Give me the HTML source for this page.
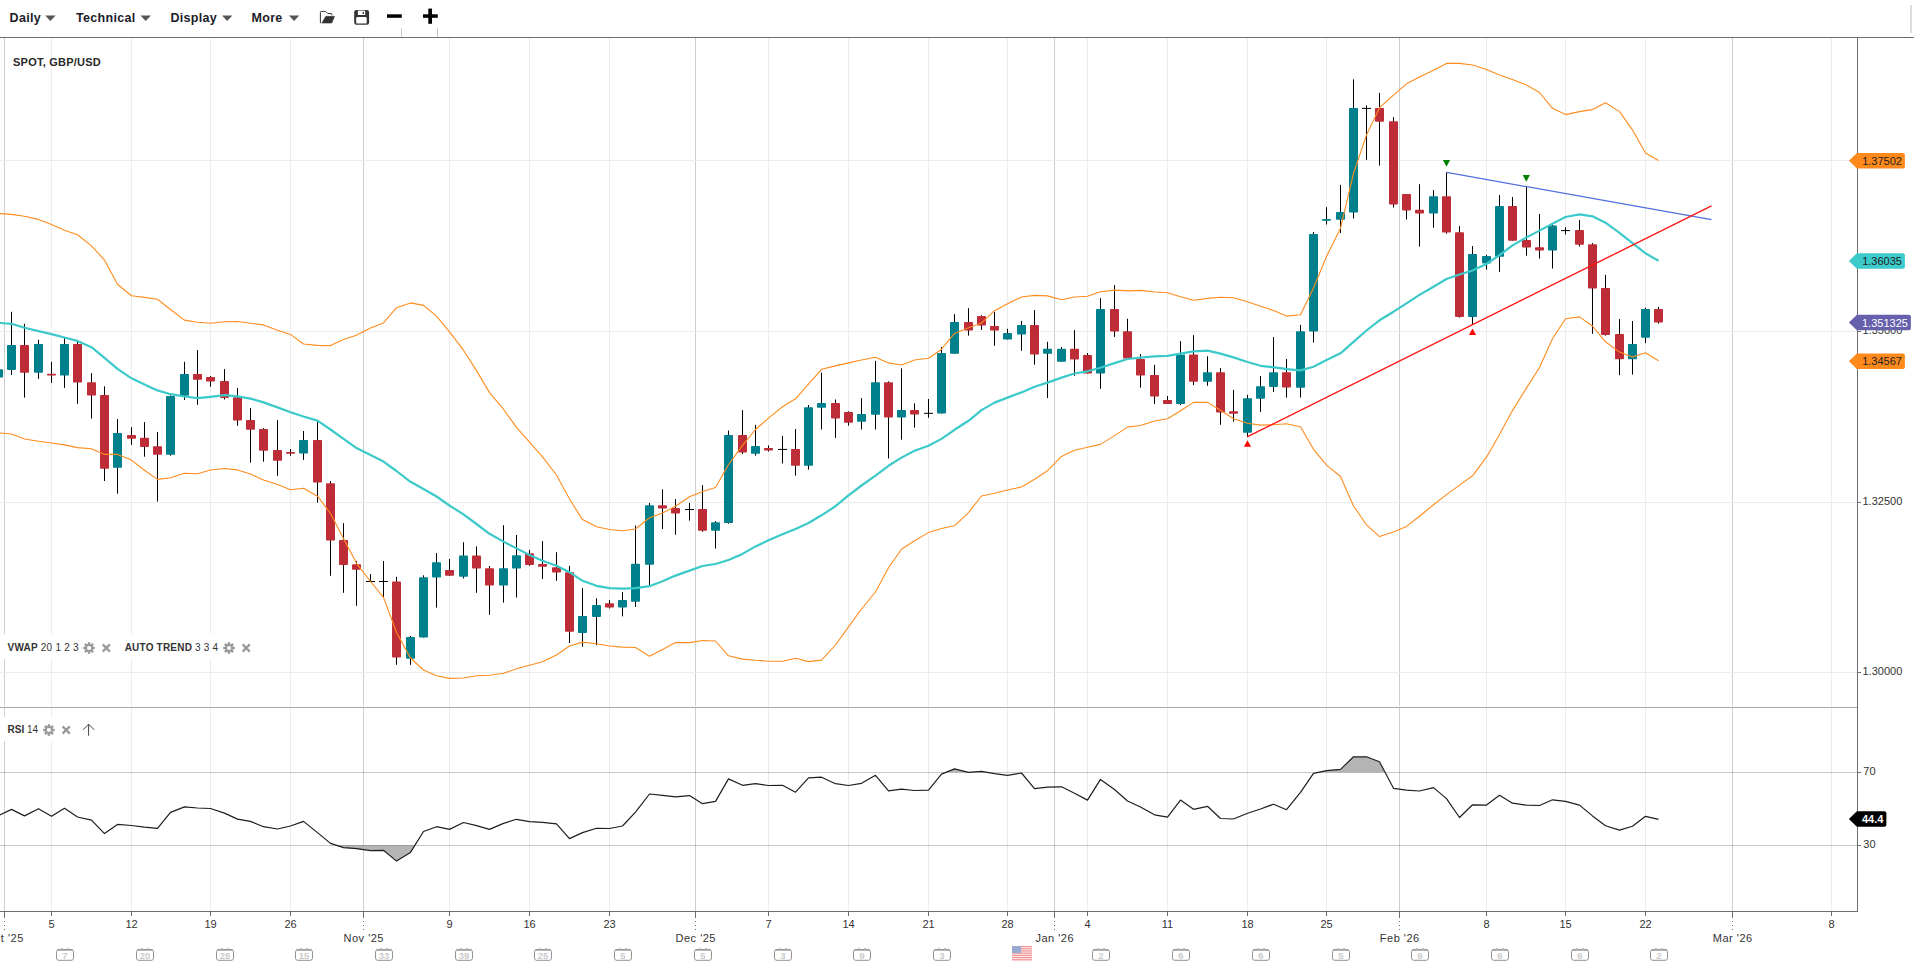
<!DOCTYPE html><html><head><meta charset="utf-8"><title>GBP/USD Chart</title><style>html,body{margin:0;padding:0;background:#fff;width:1914px;height:969px;overflow:hidden}text{font-family:"Liberation Sans",sans-serif}</style></head><body><svg width="1914" height="969" viewBox="0 0 1914 969" style="display:block;font-family:'Liberation Sans', sans-serif">
<rect width="1914" height="969" fill="#fff"/>
<g shape-rendering="crispEdges"><line x1="51.5" y1="38" x2="51.5" y2="706" stroke="#ececec"/><line x1="51.5" y1="708" x2="51.5" y2="911" stroke="#ececec"/><line x1="131.5" y1="38" x2="131.5" y2="706" stroke="#ececec"/><line x1="131.5" y1="708" x2="131.5" y2="911" stroke="#ececec"/><line x1="210.5" y1="38" x2="210.5" y2="706" stroke="#ececec"/><line x1="210.5" y1="708" x2="210.5" y2="911" stroke="#ececec"/><line x1="290.5" y1="38" x2="290.5" y2="706" stroke="#ececec"/><line x1="290.5" y1="708" x2="290.5" y2="911" stroke="#ececec"/><line x1="449.5" y1="38" x2="449.5" y2="706" stroke="#ececec"/><line x1="449.5" y1="708" x2="449.5" y2="911" stroke="#ececec"/><line x1="529.5" y1="38" x2="529.5" y2="706" stroke="#ececec"/><line x1="529.5" y1="708" x2="529.5" y2="911" stroke="#ececec"/><line x1="609.5" y1="38" x2="609.5" y2="706" stroke="#ececec"/><line x1="609.5" y1="708" x2="609.5" y2="911" stroke="#ececec"/><line x1="768.5" y1="38" x2="768.5" y2="706" stroke="#ececec"/><line x1="768.5" y1="708" x2="768.5" y2="911" stroke="#ececec"/><line x1="848.5" y1="38" x2="848.5" y2="706" stroke="#ececec"/><line x1="848.5" y1="708" x2="848.5" y2="911" stroke="#ececec"/><line x1="928.5" y1="38" x2="928.5" y2="706" stroke="#ececec"/><line x1="928.5" y1="708" x2="928.5" y2="911" stroke="#ececec"/><line x1="1007.5" y1="38" x2="1007.5" y2="706" stroke="#ececec"/><line x1="1007.5" y1="708" x2="1007.5" y2="911" stroke="#ececec"/><line x1="1087.5" y1="38" x2="1087.5" y2="706" stroke="#ececec"/><line x1="1087.5" y1="708" x2="1087.5" y2="911" stroke="#ececec"/><line x1="1167.5" y1="38" x2="1167.5" y2="706" stroke="#ececec"/><line x1="1167.5" y1="708" x2="1167.5" y2="911" stroke="#ececec"/><line x1="1247.5" y1="38" x2="1247.5" y2="706" stroke="#ececec"/><line x1="1247.5" y1="708" x2="1247.5" y2="911" stroke="#ececec"/><line x1="1326.5" y1="38" x2="1326.5" y2="706" stroke="#ececec"/><line x1="1326.5" y1="708" x2="1326.5" y2="911" stroke="#ececec"/><line x1="1486.5" y1="38" x2="1486.5" y2="706" stroke="#ececec"/><line x1="1486.5" y1="708" x2="1486.5" y2="911" stroke="#ececec"/><line x1="1565.5" y1="38" x2="1565.5" y2="706" stroke="#ececec"/><line x1="1565.5" y1="708" x2="1565.5" y2="911" stroke="#ececec"/><line x1="1645.5" y1="38" x2="1645.5" y2="706" stroke="#ececec"/><line x1="1645.5" y1="708" x2="1645.5" y2="911" stroke="#ececec"/><line x1="1831.5" y1="38" x2="1831.5" y2="706" stroke="#ececec"/><line x1="1831.5" y1="708" x2="1831.5" y2="911" stroke="#ececec"/><line x1="4.5" y1="38" x2="4.5" y2="706" stroke="#cfcfcf"/><line x1="4.5" y1="708" x2="4.5" y2="911" stroke="#cfcfcf"/><line x1="363.5" y1="38" x2="363.5" y2="706" stroke="#cfcfcf"/><line x1="363.5" y1="708" x2="363.5" y2="911" stroke="#cfcfcf"/><line x1="695.5" y1="38" x2="695.5" y2="706" stroke="#cfcfcf"/><line x1="695.5" y1="708" x2="695.5" y2="911" stroke="#cfcfcf"/><line x1="1054.5" y1="38" x2="1054.5" y2="706" stroke="#cfcfcf"/><line x1="1054.5" y1="708" x2="1054.5" y2="911" stroke="#cfcfcf"/><line x1="1399.5" y1="38" x2="1399.5" y2="706" stroke="#cfcfcf"/><line x1="1399.5" y1="708" x2="1399.5" y2="911" stroke="#cfcfcf"/><line x1="1732.5" y1="38" x2="1732.5" y2="706" stroke="#cfcfcf"/><line x1="1732.5" y1="708" x2="1732.5" y2="911" stroke="#cfcfcf"/><line x1="0" y1="160.5" x2="1857" y2="160.5" stroke="#ececec"/><line x1="0" y1="331.5" x2="1857" y2="331.5" stroke="#ececec"/><line x1="0" y1="502.5" x2="1857" y2="502.5" stroke="#ececec"/><line x1="0" y1="672.5" x2="1857" y2="672.5" stroke="#ececec"/></g>
<path d="M-1.50 365.0V381.0M11.50 311.8V374.9M24.50 323.8V397.6M38.50 339.7V378.8M51.50 361.8V382.9M64.50 338.1V387.9M77.50 340.4V403.8M91.50 373.1V418.5M104.50 386.3V481.0M117.50 419.0V493.7M131.50 427.1V444.9M144.50 422.1V456.7M157.50 431.9V501.6M170.50 395.4V455.7M184.50 361.8V399.9M197.50 350.0V404.9M210.50 375.9V386.7M224.50 369.1V399.5M237.50 387.9V425.8M250.50 407.9V462.6M263.50 428.1V461.7M277.50 420.1V475.8M290.50 449.0V455.8M303.50 431.0V459.9M317.50 421.7V502.6M330.50 481.1V575.8M343.50 523.1V592.8M356.50 561.0V605.8M370.50 574.0V582.0M383.50 561.0V597.8M396.50 576.9V664.8M410.50 636.0V664.8M423.50 575.3V637.5M436.50 553.1V607.6M449.50 559.0V575.8M463.50 542.2V578.5M476.50 546.3V592.8M489.50 566.0V614.8M503.50 525.2V602.6M516.50 535.0V597.5M529.50 549.9V565.8M542.50 541.1V579.0M556.50 552.2V580.8M569.50 565.8V643.0M582.50 588.1V646.6M596.50 598.3V645.3M609.50 600.1V608.5M622.50 592.1V616.4M635.50 525.6V606.9M649.50 502.9V586.9M662.50 489.3V529.0M675.50 499.1V534.7M689.50 502.9V520.6M702.50 485.2V531.8M715.50 521.1V548.5M728.50 430.6V523.7M742.50 410.2V454.0M755.50 424.9V455.6M768.50 445.4V451.5M782.50 435.8V463.5M795.50 429.0V475.6M808.50 405.0V469.6M821.50 372.7V429.5M835.50 399.5V437.9M848.50 411.3V425.6M861.50 398.1V429.5M875.50 360.9V429.5M888.50 381.3V458.5M901.50 368.3V439.7M914.50 403.3V427.6M928.50 399.0V417.8M941.50 347.0V413.5M954.50 314.1V353.8M968.50 308.2V335.6M981.50 315.2V330.0M994.50 311.8V345.8M1007.50 328.8V339.5M1021.50 320.9V350.8M1034.50 310.0V364.7M1047.50 341.8V398.1M1061.50 347.0V361.7M1074.50 330.0V375.8M1087.50 353.1V373.5M1100.50 298.2V388.8M1114.50 285.1V336.9M1127.50 318.8V358.5M1140.50 354.0V387.6M1154.50 364.9V404.0M1167.50 396.0V404.0M1180.50 341.1V405.1M1193.50 335.2V385.1M1207.50 356.3V385.8M1220.50 368.1V424.8M1233.50 389.9V421.7M1247.50 394.9V436.9M1260.50 376.0V411.9M1273.50 337.0V391.9M1286.50 359.0V397.6M1300.50 324.9V397.5M1313.50 232.1V342.6M1326.50 207.2V224.5M1340.50 184.9V233.0M1353.50 79.3V218.5M1366.50 105.4V159.9M1379.50 92.9V165.6M1393.50 117.2V207.5M1406.50 194.0V219.5M1419.50 184.2V246.6M1433.50 190.1V227.7M1446.50 172.4V233.7M1459.50 226.1V317.6M1472.50 246.1V324.4M1486.50 254.8V269.6M1499.50 195.0V271.9M1512.50 197.0V240.8M1526.50 186.3V255.6M1539.50 214.0V258.5M1552.50 223.8V268.5M1565.50 227.2V234.5M1579.50 220.0V246.5M1592.50 243.1V333.9M1605.50 274.9V335.7M1619.50 319.1V375.2M1632.50 321.0V374.6M1645.50 307.8V343.2M1658.50 306.8V323.7" stroke="#000" stroke-width="1" fill="none"/>
<path d="M366.00 581.5h9M379.00 581.5h9M685.00 509.5h9M778.00 449.4h9M924.00 413.3h9M1362.00 108.4h9M1561.00 230.6h9" stroke="#000" stroke-width="1" fill="none"/>
<g fill="#00808c"><rect x="-6.00" y="369.2" width="9" height="8.3" rx="0.8"/><rect x="7.00" y="345.0" width="9" height="24.9" rx="0.8"/><rect x="34.00" y="344.0" width="9" height="28.7" rx="0.8"/><rect x="60.00" y="344.0" width="9" height="31.6" rx="0.8"/><rect x="113.00" y="433.0" width="9" height="34.8" rx="0.8"/><rect x="166.00" y="396.0" width="9" height="58.8" rx="0.8"/><rect x="180.00" y="374.0" width="9" height="21.8" rx="0.8"/><rect x="299.00" y="439.9" width="9" height="13.6" rx="0.8"/><rect x="406.00" y="637.1" width="9" height="21.6" rx="0.8"/><rect x="419.00" y="577.2" width="9" height="60.3" rx="0.8"/><rect x="432.00" y="562.2" width="9" height="15.4" rx="0.8"/><rect x="459.00" y="555.4" width="9" height="21.3" rx="0.8"/><rect x="499.00" y="568.3" width="9" height="17.3" rx="0.8"/><rect x="512.00" y="555.2" width="9" height="13.4" rx="0.8"/><rect x="578.00" y="616.0" width="9" height="17.0" rx="0.8"/><rect x="592.00" y="605.1" width="9" height="11.8" rx="0.8"/><rect x="618.00" y="600.1" width="9" height="7.5" rx="0.8"/><rect x="631.00" y="563.8" width="9" height="37.9" rx="0.8"/><rect x="645.00" y="505.2" width="9" height="59.5" rx="0.8"/><rect x="711.00" y="522.2" width="9" height="8.6" rx="0.8"/><rect x="724.00" y="435.1" width="9" height="87.9" rx="0.8"/><rect x="751.00" y="446.0" width="9" height="7.8" rx="0.8"/><rect x="804.00" y="407.2" width="9" height="58.6" rx="0.8"/><rect x="817.00" y="403.1" width="9" height="4.6" rx="0.8"/><rect x="857.00" y="414.0" width="9" height="7.7" rx="0.8"/><rect x="871.00" y="382.2" width="9" height="32.5" rx="0.8"/><rect x="897.00" y="410.1" width="9" height="7.4" rx="0.8"/><rect x="937.00" y="353.1" width="9" height="60.4" rx="0.8"/><rect x="950.00" y="322.0" width="9" height="31.8" rx="0.8"/><rect x="1003.00" y="332.9" width="9" height="6.6" rx="0.8"/><rect x="1017.00" y="325.0" width="9" height="9.5" rx="0.8"/><rect x="1043.00" y="348.8" width="9" height="5.0" rx="0.8"/><rect x="1057.00" y="348.8" width="9" height="12.9" rx="0.8"/><rect x="1096.00" y="309.1" width="9" height="64.5" rx="0.8"/><rect x="1176.00" y="354.5" width="9" height="49.5" rx="0.8"/><rect x="1203.00" y="372.2" width="9" height="9.5" rx="0.8"/><rect x="1243.00" y="398.3" width="9" height="34.5" rx="0.8"/><rect x="1256.00" y="386.2" width="9" height="12.5" rx="0.8"/><rect x="1269.00" y="372.2" width="9" height="14.7" rx="0.8"/><rect x="1296.00" y="331.2" width="9" height="56.5" rx="0.8"/><rect x="1309.00" y="234.1" width="9" height="97.4" rx="0.8"/><rect x="1322.00" y="219.1" width="9" height="1.7" rx="0.8"/><rect x="1336.00" y="212.1" width="9" height="7.6" rx="0.8"/><rect x="1349.00" y="108.1" width="9" height="104.4" rx="0.8"/><rect x="1429.00" y="196.2" width="9" height="17.4" rx="0.8"/><rect x="1468.00" y="254.1" width="9" height="62.8" rx="0.8"/><rect x="1482.00" y="256.1" width="9" height="7.3" rx="0.8"/><rect x="1495.00" y="206.1" width="9" height="50.6" rx="0.8"/><rect x="1548.00" y="225.4" width="9" height="25.2" rx="0.8"/><rect x="1628.00" y="344.1" width="9" height="15.2" rx="0.8"/><rect x="1641.00" y="308.9" width="9" height="28.9" rx="0.8"/></g>
<g fill="#be2d37"><rect x="20.00" y="345.0" width="9" height="27.7" rx="0.8"/><rect x="47.00" y="373.8" width="9" height="1.8" rx="0.8"/><rect x="73.00" y="344.0" width="9" height="38.6" rx="0.8"/><rect x="87.00" y="382.2" width="9" height="13.4" rx="0.8"/><rect x="100.00" y="395.1" width="9" height="73.6" rx="0.8"/><rect x="127.00" y="435.1" width="9" height="3.6" rx="0.8"/><rect x="140.00" y="437.8" width="9" height="9.1" rx="0.8"/><rect x="153.00" y="446.2" width="9" height="8.6" rx="0.8"/><rect x="193.00" y="374.0" width="9" height="5.7" rx="0.8"/><rect x="206.00" y="377.0" width="9" height="4.5" rx="0.8"/><rect x="220.00" y="381.1" width="9" height="16.8" rx="0.8"/><rect x="233.00" y="397.2" width="9" height="23.4" rx="0.8"/><rect x="246.00" y="420.1" width="9" height="9.6" rx="0.8"/><rect x="259.00" y="429.0" width="9" height="21.8" rx="0.8"/><rect x="273.00" y="450.1" width="9" height="10.7" rx="0.8"/><rect x="286.00" y="452.0" width="9" height="1.7" rx="0.8"/><rect x="313.00" y="439.9" width="9" height="42.7" rx="0.8"/><rect x="326.00" y="483.2" width="9" height="57.4" rx="0.8"/><rect x="339.00" y="539.9" width="9" height="25.0" rx="0.8"/><rect x="352.00" y="564.2" width="9" height="5.5" rx="0.8"/><rect x="392.00" y="581.5" width="9" height="76.0" rx="0.8"/><rect x="445.00" y="570.1" width="9" height="5.7" rx="0.8"/><rect x="472.00" y="555.4" width="9" height="13.1" rx="0.8"/><rect x="485.00" y="568.3" width="9" height="17.3" rx="0.8"/><rect x="525.00" y="553.3" width="9" height="11.6" rx="0.8"/><rect x="538.00" y="564.0" width="9" height="2.7" rx="0.8"/><rect x="552.00" y="567.2" width="9" height="5.4" rx="0.8"/><rect x="565.00" y="572.2" width="9" height="59.5" rx="0.8"/><rect x="605.00" y="603.3" width="9" height="4.3" rx="0.8"/><rect x="658.00" y="505.2" width="9" height="3.4" rx="0.8"/><rect x="671.00" y="508.1" width="9" height="5.5" rx="0.8"/><rect x="698.00" y="509.0" width="9" height="21.8" rx="0.8"/><rect x="738.00" y="435.1" width="9" height="17.5" rx="0.8"/><rect x="764.00" y="448.1" width="9" height="2.5" rx="0.8"/><rect x="791.00" y="449.0" width="9" height="16.8" rx="0.8"/><rect x="831.00" y="403.1" width="9" height="15.5" rx="0.8"/><rect x="844.00" y="412.0" width="9" height="10.7" rx="0.8"/><rect x="884.00" y="382.2" width="9" height="35.2" rx="0.8"/><rect x="910.00" y="410.1" width="9" height="4.5" rx="0.8"/><rect x="964.00" y="322.0" width="9" height="8.4" rx="0.8"/><rect x="977.00" y="315.9" width="9" height="9.5" rx="0.8"/><rect x="990.00" y="326.1" width="9" height="4.5" rx="0.8"/><rect x="1030.00" y="325.0" width="9" height="29.5" rx="0.8"/><rect x="1070.00" y="348.8" width="9" height="10.7" rx="0.8"/><rect x="1083.00" y="354.9" width="9" height="18.6" rx="0.8"/><rect x="1110.00" y="309.0" width="9" height="22.5" rx="0.8"/><rect x="1123.00" y="331.3" width="9" height="27.2" rx="0.8"/><rect x="1136.00" y="359.0" width="9" height="16.6" rx="0.8"/><rect x="1150.00" y="375.1" width="9" height="21.4" rx="0.8"/><rect x="1163.00" y="400.1" width="9" height="3.9" rx="0.8"/><rect x="1189.00" y="354.5" width="9" height="27.2" rx="0.8"/><rect x="1216.00" y="372.2" width="9" height="40.4" rx="0.8"/><rect x="1229.00" y="411.2" width="9" height="2.5" rx="0.8"/><rect x="1282.00" y="372.2" width="9" height="15.4" rx="0.8"/><rect x="1375.00" y="108.1" width="9" height="13.7" rx="0.8"/><rect x="1389.00" y="121.3" width="9" height="83.1" rx="0.8"/><rect x="1402.00" y="194.0" width="9" height="16.4" rx="0.8"/><rect x="1415.00" y="209.8" width="9" height="3.8" rx="0.8"/><rect x="1442.00" y="196.2" width="9" height="36.4" rx="0.8"/><rect x="1455.00" y="232.2" width="9" height="84.7" rx="0.8"/><rect x="1508.00" y="206.1" width="9" height="34.7" rx="0.8"/><rect x="1522.00" y="240.1" width="9" height="7.5" rx="0.8"/><rect x="1535.00" y="247.2" width="9" height="3.4" rx="0.8"/><rect x="1575.00" y="230.1" width="9" height="14.6" rx="0.8"/><rect x="1588.00" y="244.2" width="9" height="44.3" rx="0.8"/><rect x="1601.00" y="288.0" width="9" height="47.0" rx="0.8"/><rect x="1615.00" y="333.9" width="9" height="25.4" rx="0.8"/><rect x="1654.00" y="308.9" width="9" height="13.7" rx="0.8"/></g>
<polyline points="-1.50,213.5 11.50,214.4 24.50,216.2 38.50,219.4 51.50,224.5 64.50,230.2 77.50,234.8 91.50,245.9 104.50,260.1 117.50,284.3 131.50,295.7 144.50,297.4 157.50,299.2 170.50,309.5 184.50,320.1 197.50,322.2 210.50,323.3 224.50,321.7 237.50,321.5 250.50,323.3 263.50,324.9 277.50,330.2 290.50,334.4 303.50,344.0 317.50,345.4 330.50,345.6 343.50,339.4 356.50,335.3 370.50,327.9 383.50,322.9 396.50,307.7 410.50,302.9 423.50,305.4 436.50,316.1 449.50,331.8 463.50,350.2 476.50,370.6 489.50,392.6 503.50,409.2 516.50,427.4 529.50,442.1 542.50,456.9 556.50,475.0 569.50,499.0 582.50,519.6 596.50,526.8 609.50,529.5 622.50,530.8 635.50,529.0 649.50,517.7 662.50,513.1 675.50,506.3 689.50,496.8 702.50,491.6 715.50,487.5 728.50,464.7 742.50,445.4 755.50,429.5 768.50,418.1 782.50,406.8 795.50,398.8 808.50,384.1 821.50,369.3 835.50,365.9 848.50,362.9 861.50,360.0 875.50,357.3 888.50,362.9 901.50,365.0 914.50,360.0 928.50,358.3 941.50,349.2 954.50,333.4 968.50,327.7 981.50,323.1 994.50,310.7 1007.50,303.8 1021.50,297.0 1034.50,295.4 1047.50,295.9 1061.50,299.8 1074.50,297.0 1087.50,296.3 1100.50,291.7 1114.50,290.1 1127.50,290.9 1140.50,290.4 1154.50,292.0 1167.50,292.7 1180.50,296.8 1193.50,300.2 1207.50,298.4 1220.50,297.2 1233.50,297.7 1247.50,301.8 1260.50,306.3 1273.50,310.4 1286.50,316.1 1300.50,314.7 1313.50,288.0 1326.50,256.5 1340.50,228.2 1353.50,173.5 1366.50,134.9 1379.50,107.7 1393.50,95.2 1406.50,83.8 1419.50,77.0 1433.50,70.2 1446.50,63.4 1459.50,63.4 1472.50,65.0 1486.50,69.5 1499.50,75.0 1512.50,79.5 1526.50,85.0 1539.50,92.5 1552.50,108.3 1565.50,114.6 1579.50,111.6 1592.50,109.6 1605.50,102.8 1619.50,111.6 1632.50,129.9 1645.50,153.0 1658.50,160.5" fill="none" stroke="#ff8c1f" stroke-width="1.1" stroke-linejoin="round"/>
<polyline points="-1.50,432.8 11.50,434.0 24.50,439.0 38.50,441.2 51.50,443.0 64.50,444.9 77.50,447.6 91.50,448.7 104.50,454.4 117.50,454.4 131.50,460.1 144.50,470.3 157.50,479.4 170.50,477.8 184.50,473.2 197.50,473.7 210.50,470.0 224.50,468.5 237.50,469.9 250.50,474.0 263.50,480.1 277.50,484.6 290.50,489.8 303.50,488.3 317.50,496.2 330.50,513.5 343.50,538.5 356.50,563.3 370.50,581.5 383.50,597.4 396.50,632.5 410.50,658.0 423.50,670.0 436.50,675.7 449.50,678.4 463.50,678.0 476.50,675.7 489.50,675.2 503.50,673.3 516.50,668.8 529.50,665.3 542.50,661.8 556.50,655.0 569.50,646.0 582.50,642.1 596.50,643.7 609.50,646.0 622.50,647.1 635.50,647.5 649.50,656.2 662.50,649.4 675.50,642.6 689.50,642.6 702.50,640.5 715.50,641.0 728.50,655.8 742.50,659.1 755.50,660.3 768.50,661.2 782.50,661.2 795.50,658.3 808.50,661.6 821.50,660.1 835.50,645.0 848.50,626.9 861.50,609.0 875.50,592.0 888.50,567.7 901.50,549.2 914.50,540.8 928.50,532.6 941.50,528.5 954.50,525.8 968.50,512.6 981.50,496.0 994.50,493.3 1007.50,490.0 1021.50,487.0 1034.50,479.3 1047.50,470.7 1061.50,456.4 1074.50,450.3 1087.50,447.3 1100.50,444.4 1114.50,435.6 1127.50,427.1 1140.50,425.5 1154.50,421.0 1167.50,418.7 1180.50,410.8 1193.50,402.4 1207.50,402.4 1220.50,410.3 1233.50,418.7 1247.50,423.3 1260.50,425.1 1273.50,424.8 1286.50,423.7 1300.50,426.7 1313.50,449.3 1326.50,465.1 1340.50,476.5 1353.50,506.0 1366.50,524.8 1379.50,536.6 1393.50,532.1 1406.50,526.4 1419.50,516.2 1433.50,504.8 1446.50,494.6 1459.50,485.1 1472.50,475.8 1486.50,457.2 1499.50,434.5 1512.50,410.6 1526.50,387.9 1539.50,367.5 1552.50,338.8 1565.50,318.7 1579.50,316.9 1592.50,326.0 1605.50,341.8 1619.50,352.1 1632.50,357.1 1645.50,352.7 1658.50,360.7" fill="none" stroke="#ff8c1f" stroke-width="1.1" stroke-linejoin="round"/>
<polyline points="-1.50,322.9 11.50,323.8 24.50,327.7 38.50,331.1 51.50,334.1 64.50,337.5 77.50,340.9 91.50,347.2 104.50,357.9 117.50,368.8 131.50,378.3 144.50,384.5 157.50,390.4 170.50,394.2 184.50,396.5 197.50,398.1 210.50,396.8 224.50,395.2 237.50,396.3 250.50,398.6 263.50,402.4 277.50,407.4 290.50,412.2 303.50,416.5 317.50,420.6 330.50,429.5 343.50,438.9 356.50,448.1 370.50,455.0 383.50,461.6 396.50,471.0 410.50,481.8 423.50,489.0 436.50,496.5 449.50,505.5 463.50,514.4 476.50,524.0 489.50,533.8 503.50,541.6 516.50,548.4 529.50,555.1 542.50,560.8 556.50,565.8 569.50,572.2 582.50,580.8 596.50,585.8 609.50,588.1 622.50,588.7 635.50,588.1 649.50,586.2 662.50,581.2 675.50,575.6 689.50,570.6 702.50,566.0 715.50,564.0 728.50,560.0 742.50,553.9 755.50,546.4 768.50,540.3 782.50,534.3 795.50,528.9 808.50,523.0 821.50,515.3 835.50,506.2 848.50,495.3 861.50,485.5 875.50,475.6 888.50,465.8 901.50,457.6 914.50,450.7 928.50,445.7 941.50,438.9 954.50,429.8 968.50,420.8 981.50,410.1 994.50,402.6 1007.50,397.6 1021.50,392.4 1034.50,386.7 1047.50,382.6 1061.50,377.6 1074.50,373.5 1087.50,371.3 1100.50,367.8 1114.50,363.1 1127.50,359.0 1140.50,357.6 1154.50,356.3 1167.50,355.8 1180.50,353.6 1193.50,351.3 1207.50,350.6 1220.50,353.6 1233.50,357.4 1247.50,362.0 1260.50,365.8 1273.50,367.2 1286.50,369.2 1300.50,370.4 1313.50,366.7 1326.50,360.1 1340.50,353.3 1353.50,341.9 1366.50,330.5 1379.50,320.3 1393.50,311.7 1406.50,303.3 1419.50,294.9 1433.50,286.7 1446.50,279.0 1459.50,274.5 1472.50,270.5 1486.50,264.0 1499.50,255.2 1512.50,245.4 1526.50,237.4 1539.50,230.6 1552.50,223.8 1565.50,217.0 1579.50,214.3 1592.50,216.3 1605.50,222.7 1619.50,232.9 1632.50,243.1 1645.50,253.3 1658.50,260.8" fill="none" stroke="#3cc9c9" stroke-width="2.2" stroke-linejoin="round"/>
<line x1="1446.7" y1="172.4" x2="1711.5" y2="219.7" stroke="#4f6fe0" stroke-width="1.3"/>
<line x1="1247.1" y1="436.9" x2="1711.5" y2="205.8" stroke="#ff1414" stroke-width="1.35"/>
<path d="M1442.9 160L1450.1 160L1446.5 166.8Z" fill="#008000"/>
<path d="M1522.7 175L1529.9 175L1526.3 181.8Z" fill="#008000"/>
<path d="M1243.9 446.8L1251.1 446.8L1247.5 440.2Z" fill="#ff0000"/>
<path d="M1468.9 335.0L1476.1 335.0L1472.5 328.4Z" fill="#ff0000"/>
<polygon points="336.38,845.30 343.50,847.60 356.50,848.70 370.50,850.60 383.50,850.30 396.50,861.10 410.50,852.40 414.92,845.30" fill="#b4b4b4"/>
<polygon points="946.00,772.30 954.50,768.90 968.50,772.30 968.50,772.30 981.50,771.40 986.59,772.30" fill="#b4b4b4"/>
<polygon points="1318.31,772.30 1326.50,770.60 1340.50,769.40 1353.50,756.80 1366.50,756.80 1379.50,761.80 1385.05,772.30" fill="#b4b4b4"/>
<g shape-rendering="crispEdges">
<line x1="0" y1="772.5" x2="1857" y2="772.5" stroke="#000" stroke-opacity="0.21"/>
<line x1="0" y1="845.5" x2="1857" y2="845.5" stroke="#000" stroke-opacity="0.21"/>
</g>
<polyline points="-1.50,815.5 11.50,809.4 24.50,815.9 38.50,808.7 51.50,816.3 64.50,808.3 77.50,817.0 91.50,820.2 104.50,833.6 117.50,824.4 131.50,825.5 144.50,827.1 157.50,828.3 170.50,812.4 184.50,806.9 197.50,808.0 210.50,808.5 224.50,813.1 237.50,819.1 250.50,821.4 263.50,826.7 277.50,829.0 290.50,826.0 303.50,821.4 317.50,832.6 330.50,843.4 343.50,847.6 356.50,848.7 370.50,850.6 383.50,850.3 396.50,861.1 410.50,852.4 423.50,831.5 436.50,826.7 449.50,829.4 463.50,822.5 476.50,825.7 489.50,829.4 503.50,823.4 516.50,819.3 529.50,821.6 542.50,822.3 556.50,823.9 569.50,838.6 582.50,832.6 596.50,828.3 609.50,828.5 622.50,826.0 635.50,812.2 649.50,794.0 662.50,795.4 675.50,796.8 689.50,795.6 702.50,803.7 715.50,801.4 728.50,778.9 742.50,785.3 755.50,783.7 768.50,785.5 782.50,785.3 795.50,792.2 808.50,777.9 821.50,777.2 835.50,783.7 848.50,785.5 861.50,783.3 875.50,775.3 888.50,790.9 901.50,789.1 914.50,790.5 928.50,790.2 941.50,774.1 954.50,768.9 968.50,772.3 981.50,771.4 994.50,773.7 1007.50,775.3 1021.50,773.0 1034.50,788.6 1047.50,787.2 1061.50,786.8 1074.50,793.2 1087.50,800.1 1100.50,779.4 1114.50,789.5 1127.50,801.0 1140.50,807.0 1154.50,814.8 1167.50,817.1 1180.50,800.1 1193.50,809.3 1207.50,806.3 1220.50,818.5 1233.50,819.0 1247.50,813.2 1260.50,809.0 1273.50,804.2 1286.50,809.7 1300.50,792.4 1313.50,773.3 1326.50,770.6 1340.50,769.4 1353.50,756.8 1366.50,756.8 1379.50,761.8 1393.50,788.3 1406.50,790.1 1419.50,791.0 1433.50,787.6 1446.50,798.6 1459.50,817.5 1472.50,804.8 1486.50,805.1 1499.50,795.2 1512.50,803.2 1526.50,805.1 1539.50,805.5 1552.50,799.8 1565.50,801.4 1579.50,805.1 1592.50,815.9 1605.50,825.7 1619.50,830.1 1632.50,826.2 1645.50,816.3 1658.50,819.3" fill="none" stroke="#1e1e1e" stroke-width="1.2" stroke-linejoin="round"/>
<rect x="0" y="634" width="256" height="25" fill="#fff"/><rect x="0" y="717" width="100" height="24" fill="#fff"/>
<text x="13" y="66" font-size="11" font-weight="bold" fill="#2a2a2a" letter-spacing="0.23">SPOT, GBP/USD</text>
<text x="7.5" y="651" font-size="10" fill="#333" letter-spacing="0.22"><tspan font-weight="bold">VWAP</tspan> 20 1 2 3</text>
<circle cx="89" cy="648" r="4.06" fill="#9a9a9a"/><rect x="87.80" y="642.20" width="2.4" height="2.90" fill="#9a9a9a" transform="rotate(0 89 648)"/><rect x="87.80" y="642.20" width="2.4" height="2.90" fill="#9a9a9a" transform="rotate(45 89 648)"/><rect x="87.80" y="642.20" width="2.4" height="2.90" fill="#9a9a9a" transform="rotate(90 89 648)"/><rect x="87.80" y="642.20" width="2.4" height="2.90" fill="#9a9a9a" transform="rotate(135 89 648)"/><rect x="87.80" y="642.20" width="2.4" height="2.90" fill="#9a9a9a" transform="rotate(180 89 648)"/><rect x="87.80" y="642.20" width="2.4" height="2.90" fill="#9a9a9a" transform="rotate(225 89 648)"/><rect x="87.80" y="642.20" width="2.4" height="2.90" fill="#9a9a9a" transform="rotate(270 89 648)"/><rect x="87.80" y="642.20" width="2.4" height="2.90" fill="#9a9a9a" transform="rotate(315 89 648)"/><circle cx="89" cy="648" r="2.09" fill="#fff"/>
<path d="M102.7 644.4L109.89999999999999 651.6M109.89999999999999 644.4L102.7 651.6" stroke="#9a9a9a" stroke-width="2.2" stroke-linecap="butt"/>
<text x="124.7" y="651" font-size="10" fill="#333" letter-spacing="0.2"><tspan font-weight="bold">AUTO TREND</tspan> 3 3 4</text>
<circle cx="229" cy="648" r="4.06" fill="#9a9a9a"/><rect x="227.80" y="642.20" width="2.4" height="2.90" fill="#9a9a9a" transform="rotate(0 229 648)"/><rect x="227.80" y="642.20" width="2.4" height="2.90" fill="#9a9a9a" transform="rotate(45 229 648)"/><rect x="227.80" y="642.20" width="2.4" height="2.90" fill="#9a9a9a" transform="rotate(90 229 648)"/><rect x="227.80" y="642.20" width="2.4" height="2.90" fill="#9a9a9a" transform="rotate(135 229 648)"/><rect x="227.80" y="642.20" width="2.4" height="2.90" fill="#9a9a9a" transform="rotate(180 229 648)"/><rect x="227.80" y="642.20" width="2.4" height="2.90" fill="#9a9a9a" transform="rotate(225 229 648)"/><rect x="227.80" y="642.20" width="2.4" height="2.90" fill="#9a9a9a" transform="rotate(270 229 648)"/><rect x="227.80" y="642.20" width="2.4" height="2.90" fill="#9a9a9a" transform="rotate(315 229 648)"/><circle cx="229" cy="648" r="2.09" fill="#fff"/>
<path d="M242.6 644.4L249.79999999999998 651.6M249.79999999999998 644.4L242.6 651.6" stroke="#9a9a9a" stroke-width="2.2" stroke-linecap="butt"/>
<text x="7.5" y="733" font-size="10" fill="#333"><tspan font-weight="bold">RSI</tspan> 14</text>
<circle cx="48.9" cy="730" r="4.06" fill="#9a9a9a"/><rect x="47.70" y="724.20" width="2.4" height="2.90" fill="#9a9a9a" transform="rotate(0 48.9 730)"/><rect x="47.70" y="724.20" width="2.4" height="2.90" fill="#9a9a9a" transform="rotate(45 48.9 730)"/><rect x="47.70" y="724.20" width="2.4" height="2.90" fill="#9a9a9a" transform="rotate(90 48.9 730)"/><rect x="47.70" y="724.20" width="2.4" height="2.90" fill="#9a9a9a" transform="rotate(135 48.9 730)"/><rect x="47.70" y="724.20" width="2.4" height="2.90" fill="#9a9a9a" transform="rotate(180 48.9 730)"/><rect x="47.70" y="724.20" width="2.4" height="2.90" fill="#9a9a9a" transform="rotate(225 48.9 730)"/><rect x="47.70" y="724.20" width="2.4" height="2.90" fill="#9a9a9a" transform="rotate(270 48.9 730)"/><rect x="47.70" y="724.20" width="2.4" height="2.90" fill="#9a9a9a" transform="rotate(315 48.9 730)"/><circle cx="48.9" cy="730" r="2.09" fill="#fff"/>
<path d="M62.6 726.4L69.8 733.6M69.8 726.4L62.6 733.6" stroke="#9a9a9a" stroke-width="2.2" stroke-linecap="butt"/>
<path d="M88.6 735.8V724.2M83 729.8L88.6 724.2L94.2 729.8" stroke="#444" stroke-width="1" fill="none"/>
<g shape-rendering="crispEdges">
<line x1="0" y1="37.5" x2="1914" y2="37.5" stroke="#6e6e6e" stroke-width="1.3"/>
<line x1="1857.5" y1="38" x2="1857.5" y2="911" stroke="#6e6e6e"/>
<line x1="0" y1="707.5" x2="1857" y2="707.5" stroke="#a8a8a8" stroke-width="1.2"/>
<line x1="0" y1="911.5" x2="1858" y2="911.5" stroke="#6e6e6e" stroke-width="1.2"/>
<line x1="401.5" y1="28" x2="401.5" y2="37" stroke="#ccc"/>
<line x1="437.5" y1="28" x2="437.5" y2="37" stroke="#ccc"/>
<rect x="1910" y="5" width="2" height="28" fill="#dcdcdc"/>
<line x1="1857" y1="160.5" x2="1861" y2="160.5" stroke="#6e6e6e"/>
<line x1="1857" y1="331.5" x2="1861" y2="331.5" stroke="#6e6e6e"/>
<line x1="1857" y1="502.5" x2="1861" y2="502.5" stroke="#6e6e6e"/>
<line x1="1857" y1="672.5" x2="1861" y2="672.5" stroke="#6e6e6e"/>
<line x1="1857" y1="772.5" x2="1861" y2="772.5" stroke="#6e6e6e"/>
<line x1="1857" y1="845.5" x2="1861" y2="845.5" stroke="#6e6e6e"/>
<line x1="51.5" y1="912" x2="51.5" y2="916" stroke="#6e6e6e"/>
<line x1="131.5" y1="912" x2="131.5" y2="916" stroke="#6e6e6e"/>
<line x1="210.5" y1="912" x2="210.5" y2="916" stroke="#6e6e6e"/>
<line x1="290.5" y1="912" x2="290.5" y2="916" stroke="#6e6e6e"/>
<line x1="449.5" y1="912" x2="449.5" y2="916" stroke="#6e6e6e"/>
<line x1="529.5" y1="912" x2="529.5" y2="916" stroke="#6e6e6e"/>
<line x1="609.5" y1="912" x2="609.5" y2="916" stroke="#6e6e6e"/>
<line x1="768.5" y1="912" x2="768.5" y2="916" stroke="#6e6e6e"/>
<line x1="848.5" y1="912" x2="848.5" y2="916" stroke="#6e6e6e"/>
<line x1="928.5" y1="912" x2="928.5" y2="916" stroke="#6e6e6e"/>
<line x1="1007.5" y1="912" x2="1007.5" y2="916" stroke="#6e6e6e"/>
<line x1="1087.5" y1="912" x2="1087.5" y2="916" stroke="#6e6e6e"/>
<line x1="1167.5" y1="912" x2="1167.5" y2="916" stroke="#6e6e6e"/>
<line x1="1247.5" y1="912" x2="1247.5" y2="916" stroke="#6e6e6e"/>
<line x1="1326.5" y1="912" x2="1326.5" y2="916" stroke="#6e6e6e"/>
<line x1="1486.5" y1="912" x2="1486.5" y2="916" stroke="#6e6e6e"/>
<line x1="1565.5" y1="912" x2="1565.5" y2="916" stroke="#6e6e6e"/>
<line x1="1645.5" y1="912" x2="1645.5" y2="916" stroke="#6e6e6e"/>
<line x1="1831.5" y1="912" x2="1831.5" y2="916" stroke="#6e6e6e"/>
</g>
<path d="M4.5 912V918M4.5 921V922M4.5 925V926M4.5 929V930" stroke="#6e6e6e" shape-rendering="crispEdges"/>
<path d="M363.5 912V918M363.5 921V922M363.5 925V926M363.5 929V930" stroke="#6e6e6e" shape-rendering="crispEdges"/>
<path d="M695.5 912V918M695.5 921V922M695.5 925V926M695.5 929V930" stroke="#6e6e6e" shape-rendering="crispEdges"/>
<path d="M1054.5 912V918M1054.5 921V922M1054.5 925V926M1054.5 929V930" stroke="#6e6e6e" shape-rendering="crispEdges"/>
<path d="M1399.5 912V918M1399.5 921V922M1399.5 925V926M1399.5 929V930" stroke="#6e6e6e" shape-rendering="crispEdges"/>
<path d="M1732.5 912V918M1732.5 921V922M1732.5 925V926M1732.5 929V930" stroke="#6e6e6e" shape-rendering="crispEdges"/>
<g font-size="11" fill="#333">
<text x="1862.5" y="162.6">1.37500</text>
<text x="1862.5" y="333.6">1.35000</text>
<text x="1862.5" y="504.6">1.32500</text>
<text x="1862.5" y="674.6">1.30000</text>
<text x="1863.3" y="774.8">70</text><text x="1863.3" y="847.7">30</text>
</g>
<path d="M1848.9 160.7L1856.9 152.95H1902.9Q1904.9 152.95 1904.9 154.95V166.45Q1904.9 168.45 1902.9 168.45H1856.9Z" fill="#ff8a1c"/><text x="1901.9" y="164.7" font-size="11" fill="#222" text-anchor="end">1.37502</text>
<path d="M1848.9 261L1856.9 253.25H1902.9Q1904.9 253.25 1904.9 255.25V266.75Q1904.9 268.75 1902.9 268.75H1856.9Z" fill="#3ccaca"/><text x="1901.9" y="265.0" font-size="11" fill="#222" text-anchor="end">1.36035</text>
<path d="M1848.9 322.5L1856.9 314.75H1908.9Q1910.9 314.75 1910.9 316.75V328.25Q1910.9 330.25 1908.9 330.25H1856.9Z" fill="#6660ad"/><text x="1907.9" y="326.5" font-size="11" fill="#fff" text-anchor="end">1.351325</text>
<path d="M1848.9 361.3L1856.9 353.55H1902.9Q1904.9 353.55 1904.9 355.55V367.05Q1904.9 369.05 1902.9 369.05H1856.9Z" fill="#ff8a1c"/><text x="1901.9" y="365.3" font-size="11" fill="#222" text-anchor="end">1.34567</text>
<path d="M1848.9 819L1856.9 811.25H1884.4Q1886.4 811.25 1886.4 813.25V824.75Q1886.4 826.75 1884.4 826.75H1856.9Z" fill="#000"/><text x="1883.4" y="823.0" font-size="11" fill="#fff" text-anchor="end" font-weight="bold">44.4</text>
<g font-size="11" fill="#333" text-anchor="middle">
<text x="51.5" y="928">5</text>
<text x="131.5" y="928">12</text>
<text x="210.5" y="928">19</text>
<text x="290.5" y="928">26</text>
<text x="449.5" y="928">9</text>
<text x="529.5" y="928">16</text>
<text x="609.5" y="928">23</text>
<text x="768.5" y="928">7</text>
<text x="848.5" y="928">14</text>
<text x="928.5" y="928">21</text>
<text x="1007.5" y="928">28</text>
<text x="1087.5" y="928">4</text>
<text x="1167.5" y="928">11</text>
<text x="1247.5" y="928">18</text>
<text x="1326.5" y="928">25</text>
<text x="1486.5" y="928">8</text>
<text x="1565.5" y="928">15</text>
<text x="1645.5" y="928">22</text>
<text x="1831.5" y="928">8</text>
<text x="4.75" y="942" letter-spacing="0.5">Oct '25</text>
<text x="363.75" y="942" letter-spacing="0.5">Nov '25</text>
<text x="695.75" y="942" letter-spacing="0.5">Dec '25</text>
<text x="1054.75" y="942" letter-spacing="0.5">Jan '26</text>
<text x="1399.75" y="942" letter-spacing="0.5">Feb '26</text>
<text x="1732.75" y="942" letter-spacing="0.5">Mar '26</text>
</g>
<rect x="56.5" y="949.7" width="17" height="10.6" rx="2.2" fill="none" stroke="#939393" stroke-width="1"/>
<line x1="57.5" y1="949.9" x2="72.5" y2="949.9" stroke="#939393" stroke-width="1.4"/>
<path d="M61.9 947.9V950.6M68.1 947.9V950.6" stroke="#b5b5b5" stroke-width="1.6"/>
<text x="65.0" y="958.8" font-size="9.5" font-weight="bold" fill="#cacaca" text-anchor="middle">7</text>
<rect x="136.5" y="949.7" width="17" height="10.6" rx="2.2" fill="none" stroke="#939393" stroke-width="1"/>
<line x1="137.5" y1="949.9" x2="152.5" y2="949.9" stroke="#939393" stroke-width="1.4"/>
<path d="M141.9 947.9V950.6M148.1 947.9V950.6" stroke="#b5b5b5" stroke-width="1.6"/>
<text x="145.0" y="958.8" font-size="9.5" font-weight="bold" fill="#cacaca" text-anchor="middle">20</text>
<rect x="216.5" y="949.7" width="17" height="10.6" rx="2.2" fill="none" stroke="#939393" stroke-width="1"/>
<line x1="217.5" y1="949.9" x2="232.5" y2="949.9" stroke="#939393" stroke-width="1.4"/>
<path d="M221.9 947.9V950.6M228.1 947.9V950.6" stroke="#b5b5b5" stroke-width="1.6"/>
<text x="225.0" y="958.8" font-size="9.5" font-weight="bold" fill="#cacaca" text-anchor="middle">28</text>
<rect x="295.5" y="949.7" width="17" height="10.6" rx="2.2" fill="none" stroke="#939393" stroke-width="1"/>
<line x1="296.5" y1="949.9" x2="311.5" y2="949.9" stroke="#939393" stroke-width="1.4"/>
<path d="M300.9 947.9V950.6M307.1 947.9V950.6" stroke="#b5b5b5" stroke-width="1.6"/>
<text x="304.0" y="958.8" font-size="9.5" font-weight="bold" fill="#cacaca" text-anchor="middle">15</text>
<rect x="375.5" y="949.7" width="17" height="10.6" rx="2.2" fill="none" stroke="#939393" stroke-width="1"/>
<line x1="376.5" y1="949.9" x2="391.5" y2="949.9" stroke="#939393" stroke-width="1.4"/>
<path d="M380.9 947.9V950.6M387.1 947.9V950.6" stroke="#b5b5b5" stroke-width="1.6"/>
<text x="384.0" y="958.8" font-size="9.5" font-weight="bold" fill="#cacaca" text-anchor="middle">33</text>
<rect x="455.5" y="949.7" width="17" height="10.6" rx="2.2" fill="none" stroke="#939393" stroke-width="1"/>
<line x1="456.5" y1="949.9" x2="471.5" y2="949.9" stroke="#939393" stroke-width="1.4"/>
<path d="M460.9 947.9V950.6M467.1 947.9V950.6" stroke="#b5b5b5" stroke-width="1.6"/>
<text x="464.0" y="958.8" font-size="9.5" font-weight="bold" fill="#cacaca" text-anchor="middle">39</text>
<rect x="534.5" y="949.7" width="17" height="10.6" rx="2.2" fill="none" stroke="#939393" stroke-width="1"/>
<line x1="535.5" y1="949.9" x2="550.5" y2="949.9" stroke="#939393" stroke-width="1.4"/>
<path d="M539.9 947.9V950.6M546.1 947.9V950.6" stroke="#b5b5b5" stroke-width="1.6"/>
<text x="543.0" y="958.8" font-size="9.5" font-weight="bold" fill="#cacaca" text-anchor="middle">25</text>
<rect x="614.5" y="949.7" width="17" height="10.6" rx="2.2" fill="none" stroke="#939393" stroke-width="1"/>
<line x1="615.5" y1="949.9" x2="630.5" y2="949.9" stroke="#939393" stroke-width="1.4"/>
<path d="M619.9 947.9V950.6M626.1 947.9V950.6" stroke="#b5b5b5" stroke-width="1.6"/>
<text x="623.0" y="958.8" font-size="9.5" font-weight="bold" fill="#cacaca" text-anchor="middle">5</text>
<rect x="694.5" y="949.7" width="17" height="10.6" rx="2.2" fill="none" stroke="#939393" stroke-width="1"/>
<line x1="695.5" y1="949.9" x2="710.5" y2="949.9" stroke="#939393" stroke-width="1.4"/>
<path d="M699.9 947.9V950.6M706.1 947.9V950.6" stroke="#b5b5b5" stroke-width="1.6"/>
<text x="703.0" y="958.8" font-size="9.5" font-weight="bold" fill="#cacaca" text-anchor="middle">5</text>
<rect x="774.5" y="949.7" width="17" height="10.6" rx="2.2" fill="none" stroke="#939393" stroke-width="1"/>
<line x1="775.5" y1="949.9" x2="790.5" y2="949.9" stroke="#939393" stroke-width="1.4"/>
<path d="M779.9 947.9V950.6M786.1 947.9V950.6" stroke="#b5b5b5" stroke-width="1.6"/>
<text x="783.0" y="958.8" font-size="9.5" font-weight="bold" fill="#cacaca" text-anchor="middle">3</text>
<rect x="853.5" y="949.7" width="17" height="10.6" rx="2.2" fill="none" stroke="#939393" stroke-width="1"/>
<line x1="854.5" y1="949.9" x2="869.5" y2="949.9" stroke="#939393" stroke-width="1.4"/>
<path d="M858.9 947.9V950.6M865.1 947.9V950.6" stroke="#b5b5b5" stroke-width="1.6"/>
<text x="862.0" y="958.8" font-size="9.5" font-weight="bold" fill="#cacaca" text-anchor="middle">9</text>
<rect x="933.5" y="949.7" width="17" height="10.6" rx="2.2" fill="none" stroke="#939393" stroke-width="1"/>
<line x1="934.5" y1="949.9" x2="949.5" y2="949.9" stroke="#939393" stroke-width="1.4"/>
<path d="M938.9 947.9V950.6M945.1 947.9V950.6" stroke="#b5b5b5" stroke-width="1.6"/>
<text x="942.0" y="958.8" font-size="9.5" font-weight="bold" fill="#cacaca" text-anchor="middle">3</text>
<rect x="1092.5" y="949.7" width="17" height="10.6" rx="2.2" fill="none" stroke="#939393" stroke-width="1"/>
<line x1="1093.5" y1="949.9" x2="1108.5" y2="949.9" stroke="#939393" stroke-width="1.4"/>
<path d="M1097.9 947.9V950.6M1104.1 947.9V950.6" stroke="#b5b5b5" stroke-width="1.6"/>
<text x="1101.0" y="958.8" font-size="9.5" font-weight="bold" fill="#cacaca" text-anchor="middle">2</text>
<rect x="1172.5" y="949.7" width="17" height="10.6" rx="2.2" fill="none" stroke="#939393" stroke-width="1"/>
<line x1="1173.5" y1="949.9" x2="1188.5" y2="949.9" stroke="#939393" stroke-width="1.4"/>
<path d="M1177.9 947.9V950.6M1184.1 947.9V950.6" stroke="#b5b5b5" stroke-width="1.6"/>
<text x="1181.0" y="958.8" font-size="9.5" font-weight="bold" fill="#cacaca" text-anchor="middle">6</text>
<rect x="1252.5" y="949.7" width="17" height="10.6" rx="2.2" fill="none" stroke="#939393" stroke-width="1"/>
<line x1="1253.5" y1="949.9" x2="1268.5" y2="949.9" stroke="#939393" stroke-width="1.4"/>
<path d="M1257.9 947.9V950.6M1264.1 947.9V950.6" stroke="#b5b5b5" stroke-width="1.6"/>
<text x="1261.0" y="958.8" font-size="9.5" font-weight="bold" fill="#cacaca" text-anchor="middle">6</text>
<rect x="1332.5" y="949.7" width="17" height="10.6" rx="2.2" fill="none" stroke="#939393" stroke-width="1"/>
<line x1="1333.5" y1="949.9" x2="1348.5" y2="949.9" stroke="#939393" stroke-width="1.4"/>
<path d="M1337.9 947.9V950.6M1344.1 947.9V950.6" stroke="#b5b5b5" stroke-width="1.6"/>
<text x="1341.0" y="958.8" font-size="9.5" font-weight="bold" fill="#cacaca" text-anchor="middle">5</text>
<rect x="1411.5" y="949.7" width="17" height="10.6" rx="2.2" fill="none" stroke="#939393" stroke-width="1"/>
<line x1="1412.5" y1="949.9" x2="1427.5" y2="949.9" stroke="#939393" stroke-width="1.4"/>
<path d="M1416.9 947.9V950.6M1423.1 947.9V950.6" stroke="#b5b5b5" stroke-width="1.6"/>
<text x="1420.0" y="958.8" font-size="9.5" font-weight="bold" fill="#cacaca" text-anchor="middle">9</text>
<rect x="1491.5" y="949.7" width="17" height="10.6" rx="2.2" fill="none" stroke="#939393" stroke-width="1"/>
<line x1="1492.5" y1="949.9" x2="1507.5" y2="949.9" stroke="#939393" stroke-width="1.4"/>
<path d="M1496.9 947.9V950.6M1503.1 947.9V950.6" stroke="#b5b5b5" stroke-width="1.6"/>
<text x="1500.0" y="958.8" font-size="9.5" font-weight="bold" fill="#cacaca" text-anchor="middle">6</text>
<rect x="1571.5" y="949.7" width="17" height="10.6" rx="2.2" fill="none" stroke="#939393" stroke-width="1"/>
<line x1="1572.5" y1="949.9" x2="1587.5" y2="949.9" stroke="#939393" stroke-width="1.4"/>
<path d="M1576.9 947.9V950.6M1583.1 947.9V950.6" stroke="#b5b5b5" stroke-width="1.6"/>
<text x="1580.0" y="958.8" font-size="9.5" font-weight="bold" fill="#cacaca" text-anchor="middle">6</text>
<rect x="1650.5" y="949.7" width="17" height="10.6" rx="2.2" fill="none" stroke="#939393" stroke-width="1"/>
<line x1="1651.5" y1="949.9" x2="1666.5" y2="949.9" stroke="#939393" stroke-width="1.4"/>
<path d="M1655.9 947.9V950.6M1662.1 947.9V950.6" stroke="#b5b5b5" stroke-width="1.6"/>
<text x="1659.0" y="958.8" font-size="9.5" font-weight="bold" fill="#cacaca" text-anchor="middle">2</text>
<g opacity="0.85"><rect x="1012" y="946" width="20" height="15" fill="#fbe3e3"/><rect x="1012" y="946.0" width="20" height="1.1" fill="#f08080"/><rect x="1012" y="948.2" width="20" height="1.1" fill="#f08080"/><rect x="1012" y="950.4" width="20" height="1.1" fill="#f08080"/><rect x="1012" y="952.6" width="20" height="1.1" fill="#f08080"/><rect x="1012" y="954.8" width="20" height="1.1" fill="#f08080"/><rect x="1012" y="957.0" width="20" height="1.1" fill="#f08080"/><rect x="1012" y="959.2" width="20" height="1.1" fill="#f08080"/><rect x="1012" y="946" width="9" height="7" fill="#8a9cc8"/></g>
<g font-size="12.5" font-weight="bold" fill="#1c1c28" letter-spacing="0.3">
<text x="9.6" y="22.2">Daily</text>
<text x="76.1" y="22.2">Technical</text>
<text x="170.5" y="22.2">Display</text>
<text x="251.5" y="22.2">More</text>
</g>
<path d="M45.2 15.4H55.6L50.4 20.9Z" fill="#555"/>
<path d="M140.5 15.4H150.9L145.7 20.9Z" fill="#555"/>
<path d="M222.0 15.4H232.4L227.2 20.9Z" fill="#555"/>
<path d="M288.9 15.4H299.3L294.1 20.9Z" fill="#555"/>
<path d="M331.8 15.2V14.1Q331.8 13.5 331.2 13.5H327.7L325.9 11.7Q325.6 11.4 325.1 11.4H321.3Q320.4 11.4 320.4 12.3V22.3Q320.4 23.2 321.3 23.2" fill="none" stroke="#333" stroke-width="1"/>
<path d="M325.8 16.4H334.4L331.7 22.9H322.1Z" fill="#333" stroke="#333" stroke-width="0.8" stroke-linejoin="round"/>
<rect x="354.2" y="10" width="14.9" height="14.7" rx="2.2" fill="#333"/>
<rect x="357.9" y="10.6" width="7.3" height="4.4" fill="#fff"/><rect x="362.7" y="11.7" width="1.3" height="2.3" rx="0.5" fill="#333"/>
<rect x="356.2" y="17.1" width="10.5" height="6.5" rx="1.2" fill="#fff"/>
<rect x="387" y="14.3" width="14.8" height="3.5" fill="#000"/>
<rect x="423" y="14.3" width="14.8" height="3.5" fill="#000"/><rect x="428.3" y="8.6" width="3.7" height="15.2" fill="#000"/>
</svg></body></html>
